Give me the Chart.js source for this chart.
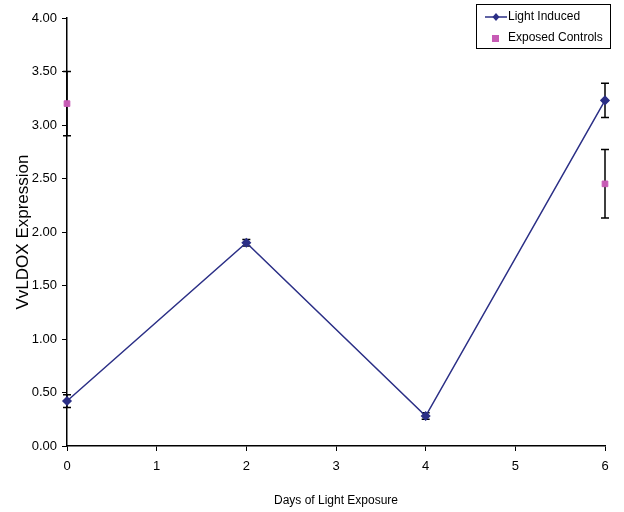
<!DOCTYPE html>
<html lang="en">
<head>
<meta charset="UTF-8">
<title>VvLDOX Expression</title>
<style>
  html, body { margin: 0; padding: 0; background: #fff; }
  #wrap { position: relative; width: 624px; height: 512px; }
</style>
</head>
<body>
<div id="wrap"><canvas id="chart" width="624" height="512"></canvas></div>
<script src="https://cdn.jsdelivr.net/npm/chart.js"></script>
<script>
// data
const days = [0, 2, 4, 6];
const lightInduced = [0.42, 1.90, 0.28, 3.23];
const lightErr = [0.06, 0.03, 0.03, 0.16];
const controlDays = [0, 6];
const exposedControls = [3.20, 2.45];
const controlErr = [0.30, 0.32];
const yTicks = [0, 0.5, 1, 1.5, 2, 2.5, 3, 3.5, 4];

const sans = '"Liberation Sans", Arial, sans-serif';
const lineColor = '#2b2f86';
const ctrlColor = '#c75bb5';

// error bars + legend box, drawn through the chart's scales
const extras = {
  id: 'extras',
  beforeDatasetsDraw(chart) {
    const { ctx, scales: { x, y } } = chart;
    ctx.save();
    ctx.strokeStyle = '#000';
    ctx.lineWidth = 1.5;
    const bars = (xs, ys, es) => {
      xs.forEach((d, i) => {
        const px = x.getPixelForValue(d);
        const top = y.getPixelForValue(ys[i] + es[i]);
        const bot = y.getPixelForValue(ys[i] - es[i]);
        ctx.beginPath();
        ctx.moveTo(px, top); ctx.lineTo(px, bot);
        ctx.moveTo(px - 4, top); ctx.lineTo(px + 4, top);
        ctx.moveTo(px - 4, bot); ctx.lineTo(px + 4, bot);
        ctx.stroke();
      });
    };
    bars(days, lightInduced, lightErr);
    bars(controlDays, exposedControls, controlErr);
    ctx.restore();
  },
  afterDatasetsDraw(chart) {
    const { ctx } = chart;
    const ds = chart.data.datasets;
    ctx.save();
    ctx.strokeStyle = '#000';
    ctx.lineWidth = 1;
    ctx.strokeRect(476.5, 4.5, 134, 44);
    ctx.font = '12px ' + sans;
    ctx.fillStyle = '#000';
    ctx.textBaseline = 'middle';
    ctx.fillText(ds[0].label, 508, 17);
    ctx.fillText(ds[1].label, 508, 38);
    ctx.strokeStyle = lineColor;
    ctx.lineWidth = 1.5;
    ctx.beginPath(); ctx.moveTo(485, 17); ctx.lineTo(507, 17); ctx.stroke();
    ctx.fillStyle = lineColor;
    ctx.beginPath();
    ctx.moveTo(496, 13); ctx.lineTo(499.5, 17); ctx.lineTo(496, 21); ctx.lineTo(492.5, 17);
    ctx.closePath(); ctx.fill();
    ctx.fillStyle = ctrlColor;
    ctx.fillRect(492, 35, 7, 7);
    ctx.restore();
  }
};

new Chart(document.getElementById('chart'), {
  type: 'scatter',
  data: {
    datasets: [
      {
        label: 'Light Induced',
        data: days.map((d, i) => ({ x: d, y: lightInduced[i] })),
        showLine: true,
        clip: false,
        borderColor: lineColor,
        backgroundColor: lineColor,
        borderWidth: 1.5,
        pointStyle: 'rectRot',
        pointRadius: 4,
        pointHoverRadius: 4
      },
      {
        label: 'Exposed Controls',
        data: controlDays.map((d, i) => ({ x: d, y: exposedControls[i] })),
        showLine: false,
        clip: false,
        borderColor: ctrlColor,
        backgroundColor: ctrlColor,
        pointStyle: 'rect',
        pointRadius: 4,
        pointHoverRadius: 4
      }
    ]
  },
  options: {
    responsive: false,
    animation: false,
    layout: { padding: { top: 18, right: 19, left: 13, bottom: 0 } },
    plugins: { legend: { display: false }, tooltip: { enabled: false } },
    scales: {
      x: {
        type: 'linear',
        min: 0, max: 6,
        afterFit(s) { s.height = 66; },
        ticks: { stepSize: 1, color: '#000', padding: 8, font: { family: sans, size: 13 } },
        grid: { drawOnChartArea: false, drawTicks: true, tickLength: 5, color: '#000' },
        border: { color: '#000', width: 1.5 },
        title: { display: true, text: 'Days of Light Exposure', color: '#000', font: { family: sans, size: 12 }, padding: { top: 11 } }
      },
      y: {
        min: 0, max: 4,
        afterFit(s) { s.width = 54; },
        afterBuildTicks(s) { s.ticks = yTicks.map(v => ({ value: v })); },
        ticks: { color: '#000', padding: 5, font: { family: sans, size: 13 }, callback: v => v.toFixed(2) },
        grid: { drawOnChartArea: false, drawTicks: true, tickLength: 5, color: '#000' },
        border: { color: '#000', width: 1.5 },
        title: { display: true, text: 'VvLDOX Expression', color: '#000', font: { family: sans, size: 17 }, padding: 0 }
      }
    }
  },
  plugins: [extras]
});
</script>
</body>
</html>
